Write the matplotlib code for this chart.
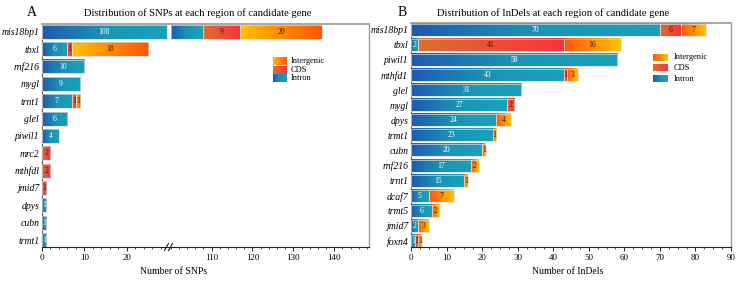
import numpy as np
import matplotlib
matplotlib.use('Agg')
import matplotlib.pyplot as plt
from matplotlib.colors import LinearSegmentedColormap
from matplotlib.patches import Rectangle
from matplotlib.ticker import MultipleLocator
from matplotlib.lines import Line2D

plt.rcParams['font.family'] = ['Liberation Serif', 'DejaVu Serif']

# ---------------- data ----------------
genes_a = ['mis18bp1', 'tbxl', 'rnf216', 'mygl', 'trnt1', 'glel', 'piwil1',
           'mrc2', 'mthfdl', 'jmid7', 'dpys', 'cubn', 'trmt1']
intron_a = [108, 6, 10, 9, 7, 6, 4, 0, 0, 0, 1, 1, 1]
cds_a = [9, 1, 0, 0, 1, 0, 0, 2, 2, 1, 0, 0, 0]
inter_a = [20, 18, 0, 0, 1, 0, 0, 0, 0, 0, 0, 0, 0]

genes_b = ['mis18bp1', 'tbxl', 'piwil1', 'mthfd1', 'glel', 'mygl', 'dpys', 'trmt1',
           'cubn', 'rnf216', 'trnt1', 'dcaf7', 'trmt5', 'jmid7', 'foxn4']
intron_b = [70, 2, 58, 43, 31, 27, 24, 23, 20, 17, 15, 5, 6, 2, 1]
cds_b = [6, 41, 0, 1, 0, 2, 0, 0, 0, 0, 0, 0, 0, 0, 1]
inter_b = [7, 16, 0, 3, 0, 0, 4, 1, 1, 2, 1, 7, 2, 3, 1]

legend_labels = ['Intergenic', 'CDS', 'Intron']

# ---------------- styles ----------------
cm_intron = LinearSegmentedColormap.from_list('intron', ['#1f5ab0', '#1b94b5', '#1aa2ba'])
cm_cds = LinearSegmentedColormap.from_list('cds', ['#dc6e30', '#f8333e'])
cm_inter_a = LinearSegmentedColormap.from_list('ia', ['#ffc000', '#ff5505'])
cm_inter_b = LinearSegmentedColormap.from_list('ib', ['#ff5510', '#ffc400'])
grad = np.linspace(0, 1, 256).reshape(1, -1)
H = 0.8

fig = plt.figure(figsize=(7.39, 2.83), dpi=100)
W, HH = 739.0, 283.0


def fpos(x0, x1, ytop, ybot):
    return [x0 / W, 1 - ybot / HH, (x1 - x0) / W, (ybot - ytop) / HH]


def draw_bars(ax, n, segs, cmaps, lo, hi, label_inside=True):
    for i in range(n):
        left = 0
        for k, (vals, cmap) in enumerate(zip(segs, cmaps)):
            v = vals[i]
            if v <= 0:
                continue
            right = left + v
            a = max(left, lo)
            b = min(right, hi)
            if b > a:
                # small visual gap at the axis break
                if right > hi and hi < 100:
                    b = hi - 0.5
                if left < lo and lo > 50:
                    a = lo + 0.4
                ax.imshow(grad, cmap=cmap, aspect='auto', interpolation='bicubic',
                          extent=(a, b, i + H / 2, i - H / 2), zorder=2)
                ax.add_patch(Rectangle((a, i - H / 2), b - a, H, fill=False,
                                       edgecolor='#d8d8d8', lw=0.5, zorder=3))
                if left >= lo:
                    col = 'white' if k == 0 else '#3a1800'
                    ax.text((a + b) / 2, i, str(v), ha='center', va='center',
                            fontsize=5.5, color=col, zorder=4)
            left = right


def style_axes(ax):
    ax.spines['top'].set_color('#9a9a9a')
    ax.spines['top'].set_linewidth(1.2)
    ax.spines['right'].set_color('#9a9a9a')
    ax.spines['right'].set_linewidth(1.0)
    ax.spines['left'].set_color('#555555')
    ax.spines['bottom'].set_color('#222222')
    ax.spines['bottom'].set_linewidth(0.8)
    ax.tick_params(axis='x', which='major', length=3, width=0.6, labelsize=6.5, pad=2)
    ax.tick_params(axis='x', which='minor', length=1.5, width=0.5)
    ax.tick_params(axis='y', length=0, labelsize=7, pad=2)


def legend(ax, x0, x1, ys, cmaps, dh):
    for y, cmap, lab in zip(ys, cmaps, legend_labels):
        ax.imshow(grad, cmap=cmap, aspect='auto', interpolation='bicubic',
                  extent=(x0, x1, y - dh / 2, y + dh / 2), transform=ax.transAxes,
                  zorder=5)
        ax.text(x1 + 0.02, y, lab, transform=ax.transAxes, fontsize=6,
                va='center', ha='left')


# ---------------- Panel A ----------------
axL = fig.add_axes(fpos(42, 169, 24, 247))
axR = fig.add_axes(fpos(169, 369, 24, 247), sharey=axL)
na = len(genes_a)
cm_a = [cm_intron, cm_cds, cm_inter_a]
draw_bars(axL, na, [intron_a, cds_a, inter_a], cm_a, 0, 30)
draw_bars(axR, na, [intron_a, cds_a, inter_a], cm_a, 99.6, 148.5)
axL.set_xlim(0, 30)
axR.set_xlim(99.6, 148.5)
axL.set_ylim(na - 0.6, -0.45)
axL.set_yticks(range(na))
axL.set_yticklabels(genes_a, style='italic')
for ax in (axL, axR):
    style_axes(ax)
axL.spines['right'].set_visible(False)
axR.spines['left'].set_visible(False)
axR.tick_params(axis='y', left=False, labelleft=False)
axL.set_xticks([0, 10, 20])
axL.xaxis.set_minor_locator(MultipleLocator(2))
axR.set_xticks([110, 120, 130, 140])
axR.xaxis.set_minor_locator(MultipleLocator(2))
legend(axR, 0.52, 0.59, [0.832, 0.794, 0.756], [cm_inter_a, cm_cds, cm_intron], 0.032)

# break marks
by = 1 - 247 / HH
for dx in (-2.5, 1.5):
    fig.add_artist(Line2D([(169 + dx - 2) / W, (169 + dx + 2) / W],
                          [by - 3.5 / HH, by + 3.5 / HH], color='#222222', lw=0.8))

fig.text(174 / W, 1 - 272 / HH, 'Number of SNPs', ha='center', va='center', fontsize=7)
fig.text(198 / W, 1 - 13 / HH, 'Distribution of SNPs at each region of candidate gene',
         ha='center', va='center', fontsize=7.6)
fig.text(32 / W, 1 - 12 / HH, 'A', ha='center', va='center', fontsize=10)

# ---------------- Panel B ----------------
axB = fig.add_axes(fpos(411, 731, 23, 247))
nb = len(genes_b)
draw_bars(axB, nb, [intron_b, cds_b, inter_b], [cm_intron, cm_cds, cm_inter_b], 0, 90)
axB.set_xlim(0, 90)
axB.set_ylim(nb - 0.6, -0.45)
axB.set_yticks(range(nb))
axB.set_yticklabels(genes_b, style='italic')
style_axes(axB)
axB.set_xticks(range(0, 91, 10))
axB.xaxis.set_minor_locator(MultipleLocator(2.5))
legend(axB, 0.756, 0.80, [0.846, 0.801, 0.752], [cm_inter_b, cm_cds, cm_intron], 0.03)

fig.text(568 / W, 1 - 272 / HH, 'Number of InDels', ha='center', va='center', fontsize=7)
fig.text(553 / W, 1 - 13 / HH, 'Distribution of InDels at each region of candidate gene',
         ha='center', va='center', fontsize=7.6)
fig.text(402 / W, 1 - 12 / HH, 'B', ha='center', va='center', fontsize=10)

fig.savefig('out.png', dpi=100)
